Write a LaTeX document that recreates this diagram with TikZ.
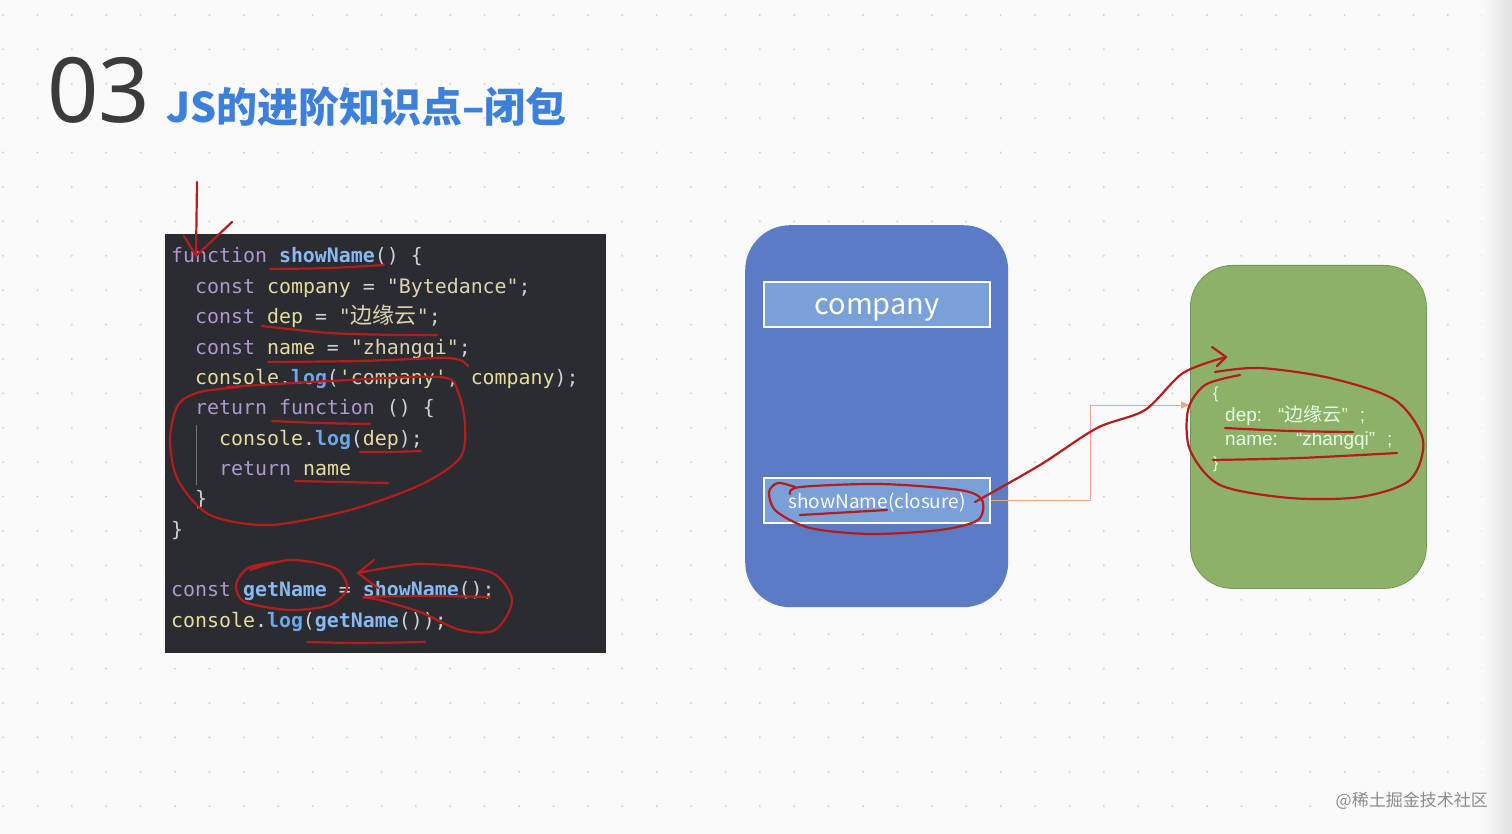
\documentclass[tikz,border=0pt]{standalone}
\usepackage{fontspec}
\setmainfont{Noto Sans}
\setmonofont{DejaVu Sans Mono}
\newfontfamily\cjk{Noto Sans CJK SC}
\newfontfamily\arialf{Liberation Sans}
\usetikzlibrary{arrows.meta}
\definecolor{bgc}{HTML}{FAFAFA}
\definecolor{dotc}{HTML}{D3D3D3}
\definecolor{codebg}{HTML}{2A2C32}
\definecolor{kwc}{HTML}{AE98CC}
\definecolor{fnc}{HTML}{8AB8F0}
\definecolor{vrc}{HTML}{E6DCA0}
\definecolor{stc}{HTML}{DCD3B0}
\definecolor{pnc}{HTML}{D0D0D0}
\definecolor{lgc}{HTML}{6EA6E6}
\definecolor{redc}{HTML}{B51D1D}
\definecolor{bluebox}{HTML}{5B7BC4}
\definecolor{bluein}{HTML}{79A0D8}
\definecolor{greenbox}{HTML}{8DB168}
\definecolor{greenedge}{HTML}{6E9950}
\definecolor{orangec}{HTML}{E9A98A}
\definecolor{titleblue}{HTML}{3D80DC}
\definecolor{numc}{HTML}{3B3B3B}
\newcommand{\ckw}[1]{\textcolor{kwc}{#1}}
\newcommand{\cfn}[1]{\textcolor{fnc}{\bfseries #1}}
\newcommand{\cvr}[1]{\textcolor{vrc}{#1}}
\newcommand{\cst}[1]{\textcolor{stc}{#1}}
\newcommand{\clg}[1]{\textcolor{lgc}{\bfseries #1}}
\begin{document}
\begin{tikzpicture}[x=1pt,y=-1pt,
  code/.style={anchor=base west, inner sep=0pt, text=pnc, font=\ttfamily\fontsize{19.9}{24}\selectfont},
  red/.style={draw=redc, line width=2.2pt, line cap=round, line join=round},
  inbox/.style={draw=white, line width=2.5pt, fill=bluein, minimum width=226pt, minimum height=45pt, inner sep=0pt},
  boxtext/.style={anchor=base, inner sep=0pt, text=white}]
\useasboundingbox (0,0) rectangle (1512,834);
\fill[bgc] (0,0) rectangle (1512,834);
\foreach \i in {0,...,43} \foreach \j in {0,...,23} \fill[dotc] (3+34.4*\i, 15+34.4*\j) circle (1.1);
\shade[left color=bgc, right color=black!12] (1482,0) rectangle (1512,834);

% title
\node[anchor=base west, inner sep=0pt, text=numc, font=\fontsize{90}{92}\selectfont] (num) at (47,123) {03};
\node[anchor=base west, inner sep=0pt, text=titleblue, font=\cjk\bfseries\fontsize{41}{44}\selectfont] (title) at (166,123) {JS的进阶知识点–闭包};

% code box
\node[fill=codebg, minimum width=441pt, minimum height=419pt, inner sep=0pt, anchor=north west] (codebox) at (165,234) {};
\node[code] (l1) at (171,263) {\ckw{function} \cfn{showName}() \{};
\node[code] (l2) at (195,293.3) {\ckw{const} \cvr{company} = \cst{"Bytedance"};};
\node[code] (l3) at (195,323.7) {\ckw{const} \cvr{dep} = \cst{"{\cjk\fontsize{22}{24}\selectfont 边缘云}"};};
\node[code] (l4) at (195,354) {\ckw{const} \cvr{name} = \cst{"zhangqi"};};
\node[code] (l5) at (195,384.3) {\cvr{console}.\clg{log}(\cst{'company'}, \cvr{company});};
\node[code] (l6) at (195,414.7) {\ckw{return} \ckw{function} () \{};
\node[code] (l7) at (219,445) {\cvr{console}.\clg{log}(\cvr{dep});};
\node[code] (l8) at (219,475.3) {\ckw{return} \cvr{name}};
\node[code] (l9) at (195,505.7) {\}};
\node[code] (l10) at (171,536) {\}};
\node[code] (l12) at (171,596.7) {\ckw{const} \cfn{getName} = \cfn{showName}();};
\node[code] (l13) at (171,627) {\cvr{console}.\clg{log}(\cfn{getName}());};
\draw[black!55, line width=0.6pt] (196,425) -- (196,485);

% blue box
\node[fill=bluebox, rounded corners=45pt, minimum width=263pt, minimum height=382pt, inner sep=0pt, anchor=north west] (bbox) at (745,225) {};
\node[inbox] (company) at (877,304.5) {};
\node[boxtext, font=\cjk\fontsize{29}{32}\selectfont] (companyt) at (877,314) {company};
\node[inbox] (closure) at (877,500.5) {};
\node[boxtext, font=\cjk\fontsize{19}{22}\selectfont] (closuret) at (877,508) {showName(closure)};

% green box
\node[fill=greenbox, draw=greenedge, line width=0.8pt, rounded corners=42pt, minimum width=236pt, minimum height=323pt, inner sep=0pt, anchor=north west] (gbox) at (1190,265) {};
\node[anchor=base west, inner sep=0pt, text=white!90!green, font=\arialf\fontsize{16}{18}\selectfont] (ob) at (1213,398) {\{};
\node[anchor=base west, inner sep=0pt, text=white!90!green, font=\arialf\fontsize{19}{22}\selectfont] (dep) at (1225,421) {dep:\hspace{16pt}“{\cjk 边缘云}”\hspace{12pt};};
\node[anchor=base west, inner sep=0pt, text=white!90!green, font=\arialf\fontsize{19}{22}\selectfont] (nm) at (1225,445) {name:\hspace{18pt}“zhangqi”\hspace{12pt};};
\node[anchor=base west, inner sep=0pt, text=white!90!green, font=\arialf\fontsize{16}{18}\selectfont] (cb) at (1213,468) {\}};

% orange connector
\coordinate (oy) at (0,405);
\coordinate (ox) at (1090,0);
\draw[orangec, line width=1pt, -{Triangle[length=9pt,width=7pt]}] (closure.east) -- (ox |- closure.east) |- (gbox.west |- oy);

% watermark
\node[anchor=base east, inner sep=0pt, text=black!45, font=\cjk\fontsize{17}{19}\selectfont] (wm) at (1488,806) {@稀土掘金技术社区};

% red annotations
\draw[red] (197,182) -- (196,256) -- (232,222);
\draw[red] (184,236) -- (196,256);
\draw[red] plot[smooth] coordinates {(270,269) (330,268) (384,265)};
\draw[red] plot[smooth] coordinates {(262,326) (330,333) (400,335) (437,335)};
\draw[red] plot[smooth] coordinates {(268,362) (360,361) (440,358) (460,360) (468,366)};
\draw[red] plot[smooth] coordinates {(227,387) (330,381) (440,377) (458,392) (465,425) (460,458) (420,485) (350,510) (270,525) (210,515) (178,480) (170,440) (178,405) (200,392) (240,387)};
\draw[red] plot[smooth] coordinates {(272,421) (320,423) (370,424)};
\draw[red] plot[smooth] coordinates {(360,452) (390,452) (421,451)};
\draw[red] plot[smooth] coordinates {(295,481) (340,482) (388,483)};
\draw[red] plot[smooth] coordinates {(250,570) (290,560) (335,568) (347,588) (330,605) (290,610) (245,602) (236,585) (248,568) (275,562)};
\draw[red] (374,560) -- (358,573) -- (378,588);
\draw[red] plot[smooth] coordinates {(358,573) (420,564) (490,572) (512,600) (495,630) (460,630) (420,612) (380,600) (365,597) (430,596) (490,597)};
\draw[red] plot[smooth] coordinates {(307,642) (360,643) (425,642)};
\draw[red] plot[smooth] coordinates {(795,487) (778,483) (769,492) (776,511) (810,528) (870,534) (940,530) (978,520) (982,500) (960,490) (880,484) (800,487) (790,494)};
\draw[red] (800,515) -- (887,510);
\draw[red] plot[smooth] coordinates {(975,502) (1040,465) (1097,428) (1145,410) (1183,373) (1226,357)};
\draw[red] (1212,347) -- (1226,357) -- (1217,366);
\draw[red] plot[smooth] coordinates {(1215,372) (1260,368) (1330,378) (1395,400) (1423,440) (1410,480) (1360,497) (1290,498) (1220,485) (1190,450) (1188,410) (1205,385) (1240,375)};
\draw[red] plot[smooth] coordinates {(1225,428) (1290,431) (1353,432)};
\draw[red] plot[smooth] coordinates {(1213,460) (1300,458) (1397,453)};
\end{tikzpicture}
\end{document}
